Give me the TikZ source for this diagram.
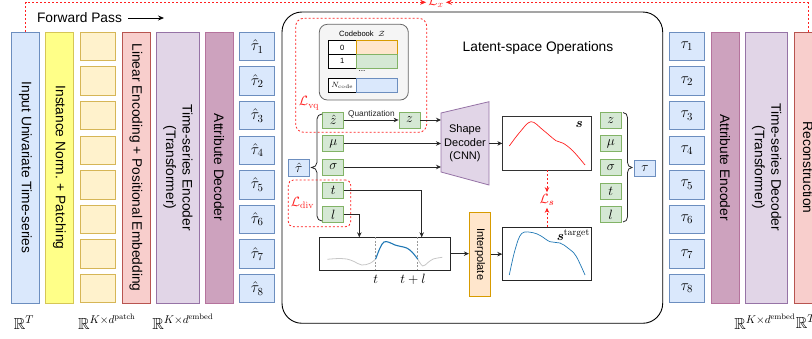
\RequirePackage{fix-cm}
\documentclass[tikz,border=0pt]{standalone}
\usepackage{amsmath,amssymb}
\usepackage[no-math]{fontspec}
\setmainfont{Liberation Sans}
\usetikzlibrary{arrows.meta,calc}
\definecolor{blueF}{HTML}{DAE8FC}\definecolor{blueD}{HTML}{6C8EBF}
\definecolor{yelF}{HTML}{FFFF88}\definecolor{yelD}{HTML}{D6C656}
\definecolor{patF}{HTML}{FFF2CC}\definecolor{patD}{HTML}{D6B656}
\definecolor{redF}{HTML}{F8CECC}\definecolor{redD}{HTML}{B85450}
\definecolor{purF}{HTML}{E1D5E7}\definecolor{purD}{HTML}{9673A6}
\definecolor{mauF}{HTML}{CDA2BE}\definecolor{mauD}{HTML}{B5739D}
\definecolor{grnF}{HTML}{D5E8D4}\definecolor{grnD}{HTML}{82B366}
\definecolor{oraF}{HTML}{FFE6CC}\definecolor{oraD}{HTML}{D79B00}
\definecolor{gryF}{HTML}{F5F5F5}\definecolor{gryD}{HTML}{666666}
\definecolor{lossred}{HTML}{FF2020}
\definecolor{curveblue}{HTML}{1F77B4}
\newcommand\fmain{\fontsize{13.75}{16.5}\selectfont}
\newcommand\fdec{\fontsize{11}{13.5}\selectfont}
\newcommand\fsmall{\fontsize{8.3}{10}\selectfont}
\newcommand\ftiny{\fontsize{7.6}{9}\selectfont}
\newcommand\fmath{\fontsize{13.5}{16}\selectfont}
\newcommand\ftau{\fontsize{15.5}{18}\selectfont}
\newcommand\fdim{\fontsize{16}{19}\selectfont}
\begin{document}
\begin{tikzpicture}[x=1pt,y=-1pt,
  box/.style={draw, line width=0.8pt, inner sep=0pt, align=center},
  colbox/.style={box, minimum height=271pt, font=\fmain},
  patbox/.style={box, fill=patF, draw=patD, minimum width=35pt, minimum height=28.4pt},
  taubox/.style={box, fill=blueF, draw=blueD, minimum width=35pt, minimum height=28.4pt, font=\ftau},
  gbox/.style={box, fill=grnF, draw=grnD, minimum width=21pt, minimum height=16pt, font=\fmath},
  bbox/.style={box, fill=blueF, draw=blueD, minimum width=21pt, minimum height=16.7pt, font=\fmath},
  arr/.style={draw=black!85, line width=0.8pt, -{Stealth[length=5pt,width=4.5pt]}},
  lossline/.style={draw=lossred, line width=0.8pt, dash pattern=on 2pt off 2pt},
  losstext/.style={text=lossred, font=\fmath, inner sep=2pt},
  cell/.style={draw, line width=0.8pt, inner sep=0pt, minimum height=13.8pt, font=\ftiny}]
\useasboundingbox (0,0) rectangle (812,339);

% ---------------- left columns ----------------
\node[colbox, fill=blueF, draw=blueD, minimum width=27.6pt] (inp) at (25.5,167.5) {\rotatebox{-90}{Input Univariate Time-series}};
\node[colbox, fill=yelF, draw=yelD, minimum width=27.6pt] (norm) at (59.5,167.5) {\rotatebox{-90}{Instance Norm. + Patching}};
\foreach \i in {1,...,8} {
  \pgfmathsetmacro\yy{46.5+(\i-1)*34.57}
  \node[patbox] (p\i) at (97.8,\yy) {};
  \node[taubox] (th\i) at (257.2,\yy) {$\hat{\tau}_{\i}$};
  \node[taubox] (tr\i) at (686.8,\yy) {$\tau_{\i}$};
}
\node[colbox, fill=redF, draw=redD, minimum width=28pt] (lin) at (136,167.5) {\rotatebox{-90}{Linear Encoding + Positional Embedding}};
\node[colbox, fill=purF, draw=purD, minimum width=42.7pt] (enc) at (177.7,167.5) {\rotatebox{-90}{\begin{tabular}{@{}c@{}}Time-series Encoder\\(Transformer)\end{tabular}}};
\node[colbox, fill=mauF, draw=mauD, minimum width=28pt] (adec) at (219,167.5) {\rotatebox{-90}{Attribute Decoder}};

% ---------------- right columns ----------------
\node[colbox, fill=mauF, draw=mauD, minimum width=28pt] (aenc) at (725,167.5) {\rotatebox{-90}{Attribute Encoder}};
\node[colbox, fill=purF, draw=purD, minimum width=42.4pt] (tdec) at (766.5,167.5) {\rotatebox{-90}{\begin{tabular}{@{}c@{}}Time-series Decoder\\(Transformer)\end{tabular}}};
\node[colbox, fill=redF, draw=redD, minimum width=28pt] (recon) at (808,167.5) {\rotatebox{-90}{Reconstruction}};

% ---------------- dimension labels ----------------
\node[font=\fdim] (dT) at (24,323) {$\mathbb{R}^{T}$};
\node[font=\fdim] (dP) at (107,322) {$\mathbb{R}^{K\times d^{\mathrm{patch}}}$};
\node[font=\fdim] (dE) at (183,322) {$\mathbb{R}^{K\times d^{\mathrm{embed}}}$};
\node[font=\fdim] (dE2) at (765,322) {$\mathbb{R}^{K\times d^{\mathrm{embed}}}$};
\node[font=\fdim] (dT2) at (806,322) {$\mathbb{R}^{T}$};

% ---------------- forward pass ----------------
\node[font=\fmain, inner sep=2pt] (fp) at (79.5,18) {Forward Pass};
\coordinate (fpend) at (164,18);
\draw[line width=0.8pt, -{Stealth[length=6pt,width=5pt]}, shorten <=4pt] (fp.east) -- (fpend);

% ---------------- reconstruction loss ----------------
\node[losstext] (Lx) at (436,2.3) {$\mathcal{L}_{x}$};
\draw[lossline, -{Stealth[length=6pt,width=5pt]}] (inp.north) |- (Lx.west);
\draw[lossline, -{Stealth[length=6pt,width=5pt]}] (recon.north) |- (Lx.east);

% ---------------- latent-space block ----------------
\node[draw, line width=0.9pt, rounded corners=20pt, minimum width=380.7pt, minimum height=311.3pt] (latent) at (472.35,167.65) {};
\node[font=\fmain] (lt) at (538,47.5) {Latent-space Operations};

% L_vq region and codebook
\node[lossline, rounded corners=8pt, minimum width=131pt, minimum height=114pt] (lvqbox) at (361.2,75.3) {};
\node[losstext] (Lvq) at (309,103.3) {$\mathcal{L}_{\mathrm{vq}}$};
\node[draw=gryD, fill=gryF, line width=0.8pt, rounded corners=8pt, minimum width=89pt, minimum height=75.7pt] (cb) at (363.8,62.15) {};
\node[font=\ftiny] (cbt) at (362,34) {Codebook~~$\mathcal{Z}$};
\node[cell, fill=white, minimum width=27.7pt] (c0) at (342.2,47.4) {0};
\node[cell, fill=oraF, draw=oraD, minimum width=41.7pt] (v0) at (376.8,47.4) {};
\node[cell, fill=white, minimum width=27.7pt] (c1) at (342.2,61.2) {1};
\node[cell, fill=grnF, draw=grnD, minimum width=41.7pt] (v1) at (376.8,61.2) {};
\node[font=\fsmall, inner sep=0pt] (dots) at (362,71) {...};
\node[cell, fill=white, minimum width=27.7pt] (cN) at (342.2,85.7) {$N_{\mathrm{code}}$};
\node[cell, fill=blueF, draw=blueD, minimum width=41.7pt] (vN) at (376.8,85.7) {};

% latent attribute boxes (left)
\node[bbox] (tauh) at (298.8,167.7) {$\hat{\tau}$};
\node[gbox] (zh) at (333.3,120) {$\hat{z}$};
\node[gbox] (mu) at (333.3,143.5) {$\mu$};
\node[gbox] (sg) at (333.3,167) {$\sigma$};
\node[gbox] (tt) at (333.3,190.8) {$t$};
\node[gbox] (ll) at (333.3,214.5) {$l$};
\node[gbox] (z) at (409.5,120) {$z$};
\draw[draw=black!85, line width=0.8pt] (322,114) to[out=180,in=90] (317,119) -- (317,162.5) to[out=-90,in=0] (311.5,167.5) to[out=0,in=90] (317,172.5) -- (317,216) to[out=-90,in=180] (322,221);

% L_div region
\node[lossline, rounded corners=5pt, minimum width=62.4pt, minimum height=46.7pt] (ldivbox) at (319.5,203.35) {};
\node[losstext] (Ldiv) at (302.5,203.3) {$\mathcal{L}_{\mathrm{div}}$};

% shape decoder
\coordinate (dtl) at (441,113);
\coordinate (dtr) at (489,101.7);
\coordinate (dbr) at (489,185);
\coordinate (dbl) at (441,172);
\draw[fill=purF, draw=purD, line width=0.8pt] (dtl) -- (dtr) -- (dbr) -- (dbl) -- cycle;
\node[font=\fdec, align=center] (dec) at (465,143.5) {Shape\\Decoder\\(CNN)};

\draw[arr] (zh.east) -- (z.west) node[midway, above, inner sep=1.5pt, font=\fsmall, text=black!85] {Quantization};
\draw[arr] (z.east) -- (z.east -| dtl);
\draw[arr] (mu.east) -- (mu.east -| dtl);
\draw[arr] (sg.east) -- (sg.east -| dtl);

% predicted shape
\node[draw=black!80, line width=0.8pt, minimum width=88.3pt, minimum height=53.3pt] (sbox) at (546.9,143.4) {};
\node[font=\fmath] (slab) at (579.3,124.3) {$\boldsymbol{s}$};
\draw[draw=lossred, line width=0.7pt] plot[smooth, tension=0.6] coordinates {(509.3,146) (520,132) (531,121.7) (543,130) (556,140.7) (563.3,143.3) (573,151) (585,165)};
\draw[arr] (sbox.west -| dtr) -- (sbox.west);

% time series with window
\node[draw=black!85, line width=0.8pt, minimum width=131.7pt, minimum height=32.7pt] (tsbox) at (384.85,253.65) {};
\draw[gray!80, line width=0.6pt, dash pattern=on 2pt off 1.5pt] (375.7,237.3) -- (375.7,270);
\draw[gray!80, line width=0.6pt, dash pattern=on 2pt off 1.5pt] (417.7,237.3) -- (417.7,270);
\draw[gray!45, line width=0.8pt] plot[smooth, tension=0.6] coordinates {(327.3,259.3) (337,258.6) (346.7,259) (354,261.5) (361.7,265) (370,263.3) (375.7,259)};
\draw[gray!45, line width=0.8pt] plot[smooth, tension=0.6] coordinates {(417.7,259) (422.7,266) (428,262.5) (433.3,259) (442.3,257.3)};
\draw[curveblue, line width=1.1pt] plot[smooth, tension=0.6] coordinates {(375.7,259) (380,248) (384,242) (389,242.3) (395,245) (401,246.5) (406.7,248) (412,252) (417.7,259)};
\node[font=\fmath] (tl) at (375.7,279) {$t$};
\node[font=\fmath] (tpl) at (413,279) {$t+l$};
\coordinate (tdown) at (421.7,237.3);
\coordinate (ldown) at (359.3,237.3);
\draw[arr] (tt.east) -| (tdown);
\draw[arr] (ll.east) -| (ldown);

% interpolate
\node[box, fill=oraF, draw=oraD, minimum width=21.4pt, minimum height=83.7pt, font=\fdec] (interp) at (480,254.15) {\rotatebox{-90}{Interpolate}};
\draw[arr] (tsbox.east) -- (tsbox.east -| interp.west);

% target shape
\node[draw=black!85, line width=0.8pt, minimum width=89pt, minimum height=52.3pt] (tbox) at (547.2,253.85) {};
\node[font=\fmath] (stlab) at (573.3,235) {$\boldsymbol{s}^{\mathrm{target}}$};
\draw[curveblue, line width=0.7pt] plot[smooth, tension=0.6] coordinates {(509.3,275) (515,250) (521.7,233.5) (533,232.7) (541,236) (550,241.7) (560,243) (568.3,248.3) (576,256) (585,275)};
\draw[arr] (interp.east) -- (interp.east -| tbox.west);

% shape loss
\node[losstext] (Ls) at (547,200) {$\mathcal{L}_{\boldsymbol{s}}$};
\draw[lossline, -{Stealth[length=5pt,width=4.5pt]}] (sbox.south -| Ls) -- (Ls.north);
\draw[lossline, -{Stealth[length=5pt,width=4.5pt]}] (tbox.north -| Ls) -- (Ls.south);

% latent attribute boxes (right)
\node[gbox] (rz) at (610.8,120.3) {$z$};
\node[gbox] (rmu) at (610.8,143.8) {$\mu$};
\node[gbox] (rsg) at (610.8,167.3) {$\sigma$};
\node[gbox] (rt) at (610.8,191) {$t$};
\node[gbox] (rl) at (610.8,214.5) {$l$};
\draw[draw=black!85, line width=0.8pt] (623,112.5) to[out=0,in=90] (627.5,117.5) -- (627.5,162.5) to[out=-90,in=180] (632,167.5) to[out=180,in=90] (627.5,172.5) -- (627.5,217) to[out=-90,in=0] (623,222);
\node[bbox] (tau) at (645,168.3) {$\tau$};
\end{tikzpicture}
\end{document}
